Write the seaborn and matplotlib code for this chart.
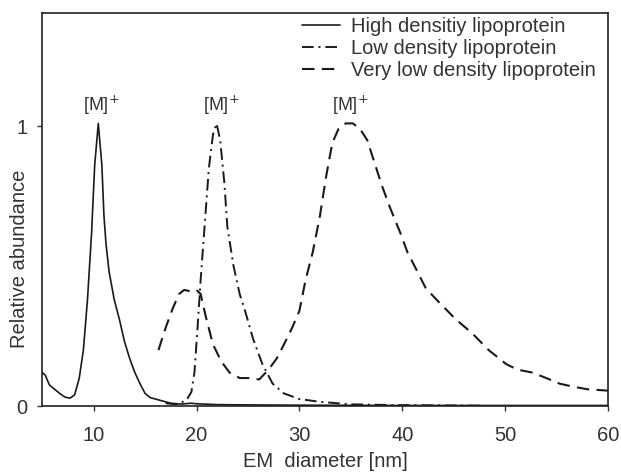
import pandas as pd
import matplotlib.pyplot as plt
import seaborn as sns

# EM diameter (nm) vs relative abundance
hdl_x = [5.0, 5.3, 5.7, 6.2, 6.7, 7.2, 7.7, 8.15, 8.6, 9.0, 9.4, 9.8, 10.1, 10.45,
         10.8, 11.0, 11.2, 11.5, 12.0, 12.5, 13.0, 13.5, 14.0, 14.5, 15.0, 15.5,
         16.5, 17.5, 18.5, 19.5, 20.0, 22.0, 25.0, 30.0, 40.0, 50.0, 60.0]
hdl_y = [0.12, 0.11, 0.075, 0.06, 0.045, 0.032, 0.028, 0.04, 0.10, 0.20, 0.38, 0.62,
         0.86, 1.01, 0.86, 0.68, 0.58, 0.48, 0.38, 0.31, 0.23, 0.17, 0.12, 0.08, 0.045,
         0.03, 0.02, 0.01, 0.007, 0.01, 0.008, 0.005, 0.004, 0.003, 0.002, 0.002, 0.002]

ldl_x = [17.0, 18.0, 19.0, 19.5, 19.8, 20.1, 20.4, 20.8, 21.2, 21.6, 21.95, 22.3,
         22.7, 23.0, 23.6, 24.2, 24.8, 25.5, 26.4, 27.4, 28.5, 30.0, 32.0, 35.0,
         40.0, 45.0, 48.0]
ldl_y = [0.01, 0.006, 0.02, 0.05, 0.12, 0.28, 0.45, 0.65, 0.85, 0.97, 1.01, 0.95,
         0.80, 0.64, 0.50, 0.40, 0.33, 0.24, 0.15, 0.08, 0.045, 0.025, 0.015, 0.006,
         0.003, 0.002, 0.001]

vldl_x = [16.3, 17.0, 17.7, 18.3, 18.8, 19.4, 20.0, 20.4, 20.9, 21.6, 22.4, 23.2,
          24.2, 25.2, 26.1, 27.0, 27.8, 28.5, 29.3, 30.0, 30.6, 31.3, 32.0, 32.6,
          33.2, 33.8, 34.5, 35.2, 35.9, 36.6, 37.3, 38.0, 38.8, 39.8, 40.5, 41.2,
          42.3, 43.6, 45.2, 46.8, 48.4, 50.1, 51.2, 52.6, 54.0, 55.3, 56.5, 58.0, 60.0]
vldl_y = [0.20, 0.28, 0.35, 0.40, 0.415, 0.41, 0.415, 0.40, 0.32, 0.22, 0.16, 0.12,
          0.10, 0.10, 0.095, 0.13, 0.17, 0.22, 0.28, 0.34, 0.45, 0.55, 0.68, 0.82,
          0.94, 0.99, 1.01, 1.01, 0.99, 0.95, 0.87, 0.79, 0.71, 0.62, 0.55, 0.50,
          0.42, 0.37, 0.31, 0.26, 0.20, 0.15, 0.13, 0.12, 0.10, 0.08, 0.07, 0.06, 0.055]

labels = ["High densitiy lipoprotein", "Low density lipoprotein",
          "Very low density lipoprotein"]
peak_x = [10.7, 22.4, 34.9]

sns.set_style("ticks")
plt.rcParams['font.family'] = ['Liberation Sans', 'DejaVu Sans']

fig = plt.figure(figsize=(6.21, 4.76), dpi=100)
ax = fig.add_axes([0.068, 0.147, 0.911, 0.826])

text_col = "#333333"
line_col = "#1a1a1a"
sns.lineplot(x=hdl_x, y=hdl_y, ax=ax, color=line_col, lw=1.2,
             label=labels[0], sort=False)
sns.lineplot(x=ldl_x, y=ldl_y, ax=ax, color=line_col, lw=1.4,
             linestyle=(0, (6, 2.5, 1, 2.5)), label=labels[1], sort=False)
sns.lineplot(x=vldl_x, y=vldl_y, ax=ax, color=line_col, lw=1.5,
             linestyle=(0, (6, 3.5)), label=labels[2], sort=False)

for px in peak_x:
    ax.text(px, 1.075, "[M]$^{+}$", ha="center", va="center",
            fontsize=13, color=text_col)

fs = 14.5
ax.set_xlim(5, 60)
ax.set_ylim(0, 1.405)
ax.set_xticks([10, 20, 30, 40, 50, 60])
ax.set_yticks([0, 1])
ax.set_yticklabels(["0", "1"])
ax.tick_params(labelsize=fs, colors=text_col, length=3.6, width=1)
ax.tick_params(axis="x", pad=11)
ax.tick_params(axis="y", pad=7)
ax.set_xlabel("EM  diameter [nm]", fontsize=fs, color=text_col, labelpad=5)
ax.set_ylabel("Relative abundance", fontsize=fs, color=text_col)
ax.yaxis.set_label_coords(-0.023, 0.374)
for s in ax.spines.values():
    s.set_color("#222222")
    s.set_linewidth(1.2)

ax.legend(loc="upper right", bbox_to_anchor=(1.0, 1.02), frameon=False,
          fontsize=fs, handlelength=1.9, handletextpad=0.55,
          labelspacing=0.15, borderaxespad=0.2, labelcolor=text_col)

plt.savefig("out.png", dpi=100)
